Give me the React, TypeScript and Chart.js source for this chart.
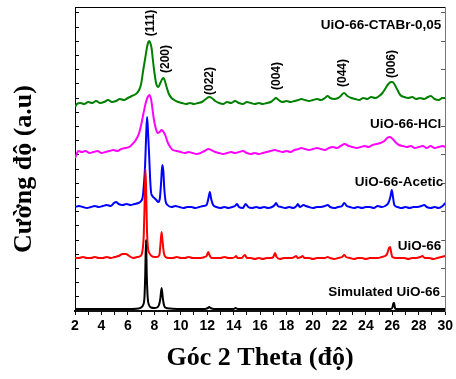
import { useEffect, useRef } from 'react';
import { Chart, registerables } from 'chart.js';
Chart.register(...registerables);

// 2θ positions and intensities (a.u., stacked offsets)
const simX = [2.0, 4.0, 6.0, 6.8, 7.0, 7.15, 7.25, 7.31, 7.37, 7.43, 7.5, 7.6, 7.75, 8.0, 8.2, 8.35, 8.45, 8.55, 8.65, 8.75, 8.9, 9.2, 10.0, 11.8, 12.05, 12.15, 12.25, 12.5, 14.0, 14.15, 14.3, 16.0, 20.0, 25.9, 26.02, 26.08, 26.14, 26.2, 26.3, 30.0];
const simY = [2, 2, 2, 2.5, 3.5, 6, 13, 35, 71, 35, 13, 6, 3.5, 3, 3.5, 6, 12, 23, 12, 5, 3, 2.5, 2, 2, 3, 4, 3, 2, 2, 3, 2, 2, 2, 2, 4, 8, 8, 3, 2, 2];

const uioX = [2.0, 2.3, 2.6, 2.9, 3.2, 3.5, 3.8, 4.1, 4.4, 4.7, 5.0, 5.3, 5.6, 5.85, 6.1, 6.4, 6.7, 6.95, 7.1, 7.2, 7.27, 7.33, 7.39, 7.45, 7.52, 7.62, 7.8, 8.0, 8.2, 8.38, 8.47, 8.55, 8.62, 8.72, 8.85, 9.1, 9.4, 9.7, 10.0, 10.3, 10.6, 10.9, 11.2, 11.5, 11.8, 11.95, 12.08, 12.2, 12.35, 12.7, 13.0, 13.3, 13.6, 13.9, 14.1, 14.19, 14.3, 14.6, 14.85, 15.0, 15.3, 15.6, 15.9, 16.2, 16.5, 16.8, 17.0, 17.13, 17.25, 17.5, 17.8, 18.1, 18.4, 18.6, 18.72, 18.85, 19.1, 19.22, 19.35, 19.7, 20.0, 20.3, 20.6, 20.9, 21.1, 21.3, 21.6, 21.9, 22.2, 22.36, 22.5, 22.8, 23.1, 23.4, 23.7, 24.0, 24.3, 24.6, 24.9, 25.2, 25.45, 25.6, 25.75, 25.83, 25.92, 26.0, 26.3, 26.6, 26.9, 27.2, 27.5, 27.8, 28.1, 28.28, 28.45, 28.8, 29.1, 29.4, 29.7, 30.0];
const uioY = [53, 53, 54, 53, 53, 54, 53, 53, 54, 53, 54, 55, 57, 57, 55, 53, 54, 55, 60, 76, 110, 142, 115, 78, 63, 58, 55, 54, 54, 56, 68, 79, 70, 58, 54, 53, 53, 54, 53, 53, 54, 53, 53, 53, 54, 55, 59, 55, 53, 53, 53, 54, 53, 53, 54, 55, 53, 53, 56, 53, 53, 52, 53, 52, 53, 53, 54, 58, 54, 52, 53, 53, 53, 54, 55, 53, 54, 55, 53, 53, 52, 53, 53, 53, 54, 53, 52, 53, 54, 56, 54, 53, 52, 53, 53, 52, 53, 53, 53, 54, 55, 57, 63, 64, 58, 54, 53, 53, 53, 52, 53, 53, 54, 55, 53, 53, 52, 53, 54, 55];

const aceticX = [2.0, 2.3, 2.6, 2.9, 3.2, 3.5, 3.8, 4.1, 4.4, 4.7, 4.95, 5.1, 5.3, 5.6, 5.9, 6.2, 6.5, 6.8, 7.0, 7.12, 7.22, 7.3, 7.38, 7.45, 7.52, 7.6, 7.68, 7.75, 7.85, 8.0, 8.15, 8.3, 8.42, 8.52, 8.6, 8.68, 8.75, 8.85, 9.0, 9.3, 9.6, 9.9, 10.2, 10.5, 10.8, 11.1, 11.4, 11.7, 11.95, 12.08, 12.2, 12.3, 12.45, 12.7, 13.0, 13.3, 13.6, 13.9, 14.1, 14.25, 14.4, 14.7, 14.9, 15.1, 15.4, 15.7, 16.0, 16.3, 16.6, 16.9, 17.1, 17.2, 17.35, 17.6, 17.9, 18.2, 18.5, 18.75, 18.85, 19.0, 19.3, 19.45, 19.7, 20.0, 20.3, 20.6, 20.9, 21.1, 21.3, 21.6, 21.9, 22.2, 22.36, 22.55, 22.8, 23.1, 23.4, 23.7, 24.0, 24.3, 24.6, 24.9, 25.2, 25.45, 25.7, 25.85, 25.96, 26.05, 26.15, 26.4, 26.7, 27.0, 27.3, 27.6, 27.9, 28.2, 28.4, 28.6, 28.9, 29.2, 29.5, 29.8, 30.0];
const aceticY = [104, 105, 104, 103, 104, 105, 104, 105, 106, 105, 108, 109, 107, 106, 107, 106, 107, 108, 110, 114, 128, 145, 175, 194, 180, 158, 133, 119, 115, 113, 111, 109, 113, 130, 146, 140, 123, 110, 106, 104, 105, 104, 103, 104, 104, 103, 104, 105, 106, 112, 119, 112, 106, 104, 103, 104, 103, 104, 105, 107, 104, 103, 107, 104, 103, 104, 103, 104, 103, 104, 106, 108, 105, 104, 103, 104, 103, 105, 107, 104, 106, 105, 104, 103, 104, 104, 105, 106, 104, 103, 104, 105, 108, 105, 104, 103, 104, 103, 104, 104, 103, 105, 104, 105, 108, 114, 121, 114, 106, 104, 103, 104, 103, 104, 104, 105, 106, 104, 103, 104, 103, 105, 108];

const hclX = [2.0, 2.1, 2.25, 2.5, 2.8, 3.1, 3.4, 3.7, 4.0, 4.3, 4.6, 4.9, 5.2, 5.5, 5.8, 6.1, 6.35, 6.6, 6.85, 7.05, 7.2, 7.35, 7.5, 7.62, 7.75, 7.85, 7.95, 8.1, 8.25, 8.4, 8.55, 8.7, 8.85, 9.0, 9.2, 9.4, 9.7, 10.0, 10.3, 10.6, 10.9, 11.2, 11.5, 11.8, 12.1, 12.3, 12.6, 12.9, 13.2, 13.5, 13.8, 14.1, 14.4, 14.7, 15.0, 15.3, 15.6, 15.9, 16.2, 16.5, 16.8, 17.1, 17.4, 17.7, 18.0, 18.3, 18.6, 18.9, 19.1, 19.4, 19.7, 20.0, 20.3, 20.6, 20.9, 21.2, 21.5, 21.8, 22.1, 22.4, 22.7, 23.0, 23.3, 23.6, 23.9, 24.2, 24.5, 24.8, 25.1, 25.4, 25.6, 25.8, 25.95, 26.1, 26.3, 26.5, 26.8, 27.1, 27.4, 27.7, 28.0, 28.3, 28.6, 28.9, 29.2, 29.5, 29.8, 30.0];
const hclY = [153, 156, 160, 159, 160, 158, 159, 160, 158, 159, 160, 161, 160, 162, 163, 164, 167, 171, 178, 189, 199, 208, 214, 216, 212, 203, 193, 183, 178, 179, 181, 179, 175, 169, 164, 161, 160, 159, 158, 159, 158, 157, 158, 160, 162, 161, 159, 158, 157, 158, 159, 158, 159, 160, 158, 157, 158, 157, 158, 159, 160, 161, 160, 159, 160, 159, 161, 162, 163, 162, 161, 162, 163, 162, 161, 163, 164, 163, 165, 167, 165, 164, 163, 164, 165, 164, 166, 167, 168, 170, 173, 174, 173, 171, 168, 166, 165, 164, 165, 163, 164, 165, 163, 165, 163, 164, 165, 164];

const ctabX = [2.0, 2.15, 2.4, 2.7, 3.0, 3.3, 3.6, 3.9, 4.2, 4.5, 4.8, 5.1, 5.4, 5.7, 6.0, 6.3, 6.6, 6.85, 7.0, 7.15, 7.3, 7.45, 7.55, 7.62, 7.7, 7.8, 7.9, 8.0, 8.15, 8.3, 8.45, 8.6, 8.7, 8.8, 8.95, 9.1, 9.3, 9.5, 9.8, 10.1, 10.4, 10.7, 11.0, 11.3, 11.6, 11.9, 12.15, 12.35, 12.6, 12.9, 13.2, 13.5, 13.8, 14.1, 14.4, 14.7, 15.0, 15.3, 15.6, 15.9, 16.2, 16.5, 16.8, 17.0, 17.2, 17.4, 17.7, 18.0, 18.3, 18.6, 18.9, 19.1, 19.4, 19.7, 20.0, 20.3, 20.6, 20.9, 21.1, 21.3, 21.6, 21.9, 22.1, 22.35, 22.6, 22.9, 23.2, 23.5, 23.8, 24.1, 24.4, 24.7, 25.0, 25.25, 25.5, 25.7, 25.9, 26.0, 26.15, 26.35, 26.6, 26.9, 27.2, 27.5, 27.8, 28.1, 28.4, 28.7, 28.9, 29.2, 29.5, 29.8, 30.0];
const ctabY = [204, 207, 208, 207, 209, 208, 210, 208, 209, 211, 209, 210, 212, 211, 213, 215, 217, 221, 227, 240, 252, 264, 269, 270, 268, 262, 250, 239, 227, 224, 228, 232, 233, 230, 223, 217, 213, 211, 209, 208, 207, 208, 207, 208, 209, 212, 214, 213, 210, 208, 207, 209, 208, 210, 208, 207, 209, 208, 207, 208, 207, 208, 209, 211, 213, 211, 209, 210, 209, 210, 211, 212, 211, 210, 211, 212, 211, 213, 215, 213, 212, 213, 215, 218, 215, 213, 212, 211, 213, 212, 214, 213, 215, 218, 223, 227, 229, 229, 227, 222, 216, 214, 213, 214, 212, 213, 212, 214, 215, 212, 211, 213, 213];

const seriesNames = ['Simulated UiO-66', 'UiO-66', 'UiO-66-Acetic', 'UiO-66-HCl', 'UiO-66-CTABr-0,05'];
const seriesColors = ['#000000', '#ff0000', '#0000ff', '#ff00ff', '#008000'];
const seriesXs = [simX, uioX, aceticX, hclX, ctabX];
const seriesYs = [simY, uioY, aceticY, hclY, ctabY];

// series label anchors (right end, data units)
const labelX = [29.6, 29.7, 29.85, 29.7, 29.7];
const labelY = [19, 65, 129, 187, 286];

// Miller index annotations
const millerText = ['(111)', '(200)', '(022)', '(004)', '(044)', '(006)'];
const millerX = [7.7, 8.83, 12.15, 17.28, 22.26, 25.96];
const millerY = [288, 252, 230, 235, 238, 247];

const xMin = 2;
const xMax = 30;
const yMax = 304;
const yTickStep = 14.2;

const yTitle = 'Cường độ (a.u)';
const xTitle = 'Góc 2 Theta (độ)';

const annotationPlugin = {
  id: 'annotations',
  afterDatasetsDraw(chart: any) {
    const ctx = chart.ctx;
    const xs = chart.scales.x;
    const ys = chart.scales.y;
    ctx.save();
    ctx.fillStyle = '#000';
    ctx.font = 'bold 13.5px "Liberation Sans", Arial, sans-serif';
    ctx.textAlign = 'right';
    ctx.textBaseline = 'middle';
    seriesNames.forEach((n, i) => {
      ctx.fillText(n, xs.getPixelForValue(labelX[i]), ys.getPixelForValue(labelY[i]));
    });
    ctx.font = 'bold 12px "Liberation Sans", Arial, sans-serif';
    ctx.textAlign = 'center';
    millerText.forEach((t, i) => {
      ctx.save();
      ctx.translate(xs.getPixelForValue(millerX[i]), ys.getPixelForValue(millerY[i]));
      ctx.rotate(-Math.PI / 2);
      ctx.fillText(t, 0, 0);
      ctx.restore();
    });
    // y axis title
    ctx.font = 'bold 26px "Liberation Serif", "Times New Roman", serif';
    ctx.save();
    ctx.translate(24, (chart.chartArea.top + chart.chartArea.bottom) / 2 + 10);
    ctx.rotate(-Math.PI / 2);
    ctx.fillText(yTitle, 0, 0);
    ctx.restore();
    ctx.restore();
  },
};

export default function App() {
  const ref = useRef<HTMLCanvasElement>(null);
  useEffect(() => {
    document.body.style.margin = '0';
    const datasets = seriesNames.map((name, i) => ({
      label: name,
      data: seriesXs[i].map((x, j) => ({ x, y: seriesYs[i][j] })),
      borderColor: seriesColors[i],
      backgroundColor: seriesColors[i],
      borderWidth: 2,
      pointRadius: 0,
      fill: false,
      cubicInterpolationMode: 'monotone' as const,
    }));
    const chart = new Chart(ref.current!, {
      type: 'line',
      data: { datasets },
      plugins: [annotationPlugin],
      options: {
        animation: false,
        responsive: false,
        devicePixelRatio: 1,
        layout: { padding: 0 },
        plugins: { legend: { display: false }, tooltip: { enabled: false } },
        scales: {
          x: {
            type: 'linear',
            min: xMin,
            max: xMax,
            position: 'bottom',
            afterFit: (s: any) => { s.height = 68; },
            ticks: {
              stepSize: 1,
              autoSkip: false,
              maxRotation: 0,
              padding: 3,
              color: '#000',
              font: { family: '"Liberation Sans", Arial, sans-serif', size: 14, weight: 'bold' },
              callback: (v: any) => (Number(v) % 2 === 0 ? String(v) : ''),
            },
            grid: { display: true, drawOnChartArea: false, drawTicks: true, tickLength: 4, color: '#000', lineWidth: 1 },
            border: { display: true, color: '#111', width: 2 },
            title: {
              display: true,
              text: xTitle,
              color: '#000',
              font: { family: '"Liberation Serif", "Times New Roman", serif', size: 26, weight: 'bold', lineHeight: 1.2 },
              padding: { top: 0, bottom: 5 },
            },
          },
          x2: {
            type: 'linear',
            min: xMin,
            max: xMax,
            position: 'top',
            afterFit: (s: any) => { s.height = 7; },
            ticks: { display: false },
            grid: { display: false },
            border: { display: true, color: '#000', width: 1 },
          },
          y: {
            type: 'linear',
            min: 0,
            max: yMax,
            position: 'left',
            afterFit: (s: any) => { s.width = 75; },
            afterBuildTicks: (s: any) => {
              const t = [];
              for (let v = 0; v < yMax - 2; v += yTickStep) t.push({ value: v });
              s.ticks = t;
            },
            ticks: { display: false },
            grid: { display: true, drawOnChartArea: false, drawTicks: true, tickLength: -4, color: '#000', lineWidth: 1 },
            border: { display: true, color: '#000', width: 1 },
          },
          y2: {
            type: 'linear',
            min: 0,
            max: yMax,
            position: 'right',
            afterFit: (s: any) => { s.width = 8; },
            afterBuildTicks: (s: any) => {
              const t = [];
              for (let v = yTickStep; v < yMax - 2; v += yTickStep * 2) t.push({ value: v });
              s.ticks = t;
            },
            ticks: { display: false },
            grid: { display: true, drawOnChartArea: false, drawTicks: true, tickLength: -4, color: '#555', lineWidth: 1 },
            border: { display: true, color: '#777', width: 1 },
          },
        },
      },
    });
    return () => chart.destroy();
  }, []);
  return (
    <div style={{ width: 456, height: 379 }}>
      <canvas ref={ref} width={456} height={379} style={{ display: 'block' }} />
    </div>
  );
}
